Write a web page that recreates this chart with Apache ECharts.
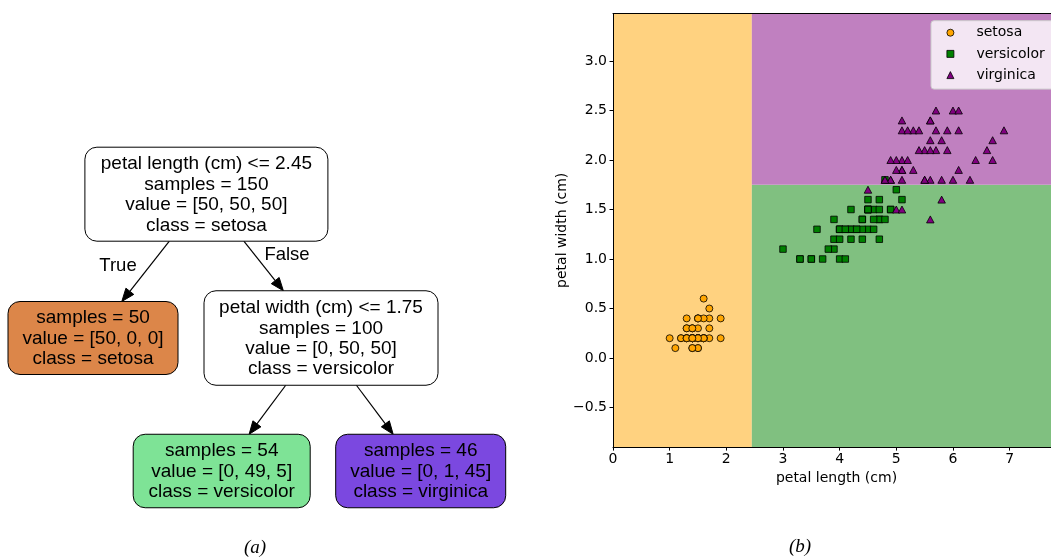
<!DOCTYPE html>
<html><head><meta charset="utf-8">
<script src="https://cdn.jsdelivr.net/npm/echarts@6/dist/echarts.min.js"></script>
<style>html,body{margin:0;padding:0;background:#fff}#chart{width:1051px;height:558px}</style>
</head><body><div id="chart"></div>
<script>
// ---------- data: iris petal measurements ----------
const classNames = ['setosa', 'versicolor', 'virginica'];
const setosaLength = [1.4,1.4,1.3,1.5,1.4,1.7,1.4,1.5,1.4,1.5, 1.5,1.6,1.4,1.1,1.2,1.5,1.3,1.4,1.7,1.5, 1.7,1.5,1.0,1.7,1.9,1.6,1.6,1.5,1.4,1.6, 1.6,1.5,1.5,1.4,1.5,1.2,1.3,1.4,1.3,1.5, 1.3,1.3,1.3,1.6,1.9,1.4,1.6,1.4,1.5,1.4];
const setosaWidth = [0.2,0.2,0.2,0.2,0.2,0.4,0.3,0.2,0.2,0.1, 0.2,0.2,0.1,0.1,0.2,0.4,0.4,0.3,0.3,0.3, 0.2,0.4,0.2,0.5,0.2,0.2,0.4,0.2,0.2,0.2, 0.2,0.4,0.1,0.2,0.2,0.2,0.2,0.1,0.2,0.2, 0.3,0.3,0.2,0.6,0.4,0.3,0.2,0.2,0.2,0.2];
const versicolorLength = [4.7,4.5,4.9,4.0,4.6,4.5,4.7,3.3,4.6,3.9, 3.5,4.2,4.0,4.7,3.6,4.4,4.5,4.1,4.5,3.9, 4.8,4.0,4.9,4.7,4.3,4.4,4.8,5.0,4.5,3.5, 3.8,3.7,3.9,5.1,4.5,4.5,4.7,4.4,4.1,4.0, 4.4,4.6,4.0,3.3,4.2,4.2,4.2,4.3,3.0,4.1];
const versicolorWidth = [1.4,1.5,1.5,1.3,1.5,1.3,1.6,1.0,1.3,1.4, 1.0,1.5,1.0,1.4,1.3,1.4,1.5,1.0,1.5,1.1, 1.8,1.3,1.5,1.2,1.3,1.4,1.4,1.7,1.5,1.0, 1.1,1.0,1.2,1.6,1.5,1.6,1.5,1.3,1.3,1.3, 1.2,1.4,1.2,1.0,1.3,1.2,1.3,1.3,1.1,1.3];
const virginicaLength = [6.0,5.1,5.9,5.6,5.8,6.6,4.5,6.3,5.8,6.1, 5.1,5.3,5.5,5.0,5.1,5.3,5.5,6.7,6.9,5.0, 5.7,4.9,6.7,4.9,5.7,6.0,4.8,4.9,5.6,5.8, 6.1,6.4,5.6,5.1,5.6,6.1,5.6,5.5,4.8,5.4, 5.6,5.1,5.1,5.9,5.7,5.2,5.0,5.2,5.4,5.1];
const virginicaWidth = [2.5,1.9,2.1,1.8,2.2,2.1,1.7,1.8,1.8,2.5, 2.0,1.9,2.1,2.0,2.4,2.3,1.8,2.2,2.3,1.5, 2.3,2.0,2.0,1.8,2.1,1.8,1.8,1.8,2.1,1.6, 1.9,2.0,2.2,1.5,1.4,2.3,2.4,1.8,1.8,2.1, 2.4,2.3,1.9,2.3,2.5,2.3,1.9,2.0,2.3,1.8];

const xTicks = [0, 1, 2, 3, 4, 5, 6, 7];
const yTicks = [-0.5, 0, 0.5, 1, 1.5, 2, 2.5, 3];
const xRange = [0, 7.73];   // visible part of the x range (plot is cut at the right edge)
const yRange = [-0.9, 3.48];
const splitPetalLength = 2.45;
const splitPetalWidth = 1.75;

// ---------- data: decision tree ----------
const nodeSplit = ['petal length (cm) <= 2.45', null, 'petal width (cm) <= 1.75', null, null];
const nodeSamples = [150, 50, 100, 54, 46];
const nodeValue = [[50, 50, 50], [50, 0, 0], [0, 50, 50], [0, 49, 5], [0, 1, 45]];
const nodeClass = ['setosa', 'setosa', 'versicolor', 'versicolor', 'virginica'];
const treeEdges = [[0, 1], [0, 2], [2, 3], [2, 4]];
const edgeLabels = ['True', 'False', '', ''];

// ---------- layout & style ----------
const nodeBox = [
  {cx: 206.4, cy: 194.2, w: 243, h: 94},
  {cx: 93, cy: 338, w: 170, h: 73},
  {cx: 321, cy: 338, w: 234, h: 94.5},
  {cx: 221.7, cy: 471, w: 177, h: 73.5},
  {cx: 420.7, cy: 471, w: 170, h: 73.5}
];
const edgeLabelPos = [[118, 266], [287, 255], null, null];
const nodeFill = ['#ffffff', '#dc8649', '#ffffff', '#7ee396', '#7b48e0'];
const pointColor = {setosa: '#ffa500', versicolor: '#008000', virginica: '#800080'};
const pointSymbol = {setosa: 'circle', versicolor: 'rect', virginica: 'triangle'};
const pointSize = {setosa: 7, versicolor: 6.5, virginica: [7.5, 7]};
const regionColor = ['#ffd280', '#80c080', '#c080c0'];
const treeFont = '"Liberation Sans", Arial, sans-serif';
const plotFont = '"DejaVu Sans", sans-serif';

function nodeText(i) {
  const lines = [];
  if (nodeSplit[i]) lines.push(nodeSplit[i]);
  lines.push('samples = ' + nodeSamples[i]);
  lines.push('value = [' + nodeValue[i].join(', ') + ']');
  lines.push('class = ' + nodeClass[i]);
  return lines.join('\n');
}

const regionBounds = [
  [xRange[0], yRange[0], splitPetalLength, yRange[1], 0],
  [splitPetalLength, yRange[0], xRange[1], splitPetalWidth, 1],
  [splitPetalLength, splitPetalWidth, xRange[1], yRange[1], 2]
];

const pointData = {
  setosa: setosaLength.map((v, i) => [v, setosaWidth[i]]),
  versicolor: versicolorLength.map((v, i) => [v, versicolorWidth[i]]),
  virginica: virginicaLength.map((v, i) => [v, virginicaWidth[i]])
};

const fmtY = v => (v < 0 ? '\u2212' : '') + Math.abs(v).toFixed(1);

const chart = echarts.init(document.getElementById('chart'), null, {renderer: 'canvas'});

const option = {
  animation: false,
  backgroundColor: '#ffffff',
  grid: [
    {left: 0, top: 0, width: 600, height: 558},
    {left: 613, top: 13.5, width: 438, height: 433.6}
  ],
  xAxis: [
    {gridIndex: 0, type: 'value', min: 0, max: 600, show: false},
    {
      gridIndex: 1, type: 'value', min: xRange[0], max: xRange[1], z: 5,
      name: 'petal length (cm)', nameLocation: 'middle', nameGap: 22,
      nameTextStyle: {color: '#000', fontSize: 14, fontFamily: plotFont, padding: [0, 0, 0, 9]},
      axisLine: {show: true, onZero: false, lineStyle: {color: '#000', width: 1}},
      axisTick: {show: true, length: 3.5, lineStyle: {color: '#000', width: 1}, customValues: xTicks},
      axisLabel: {color: '#000', fontSize: 14, fontFamily: plotFont, margin: 5, customValues: xTicks, formatter: v => String(v)},
      splitLine: {show: false}
    },
    {
      gridIndex: 1, type: 'value', position: 'top', min: xRange[0], max: xRange[1], z: 5,
      axisLine: {show: true, onZero: false, lineStyle: {color: '#000', width: 1}},
      axisTick: {show: false}, axisLabel: {show: false}, splitLine: {show: false}
    }
  ],
  yAxis: [
    {gridIndex: 0, type: 'value', min: 0, max: 558, inverse: true, show: false},
    {
      gridIndex: 1, type: 'value', min: yRange[0], max: yRange[1], z: 5,
      name: 'petal width (cm)', nameLocation: 'middle', nameGap: 43,
      nameTextStyle: {color: '#000', fontSize: 14, fontFamily: plotFont},
      axisLine: {show: true, onZero: false, lineStyle: {color: '#000', width: 1}},
      axisTick: {show: true, length: 3.5, lineStyle: {color: '#000', width: 1}, customValues: yTicks},
      axisLabel: {color: '#000', fontSize: 14, fontFamily: plotFont, margin: 6, customValues: yTicks, formatter: fmtY},
      splitLine: {show: false}
    }
  ],
  legend: {
    data: classNames,
    orient: 'vertical',
    left: 931, top: 20.7,
    z: 10,
    backgroundColor: 'rgba(255,255,255,0.8)',
    borderColor: '#cccccc', borderWidth: 1, borderRadius: 3,
    padding: [4, 30, 6, 15.5],
    itemWidth: 7, itemHeight: 7, itemGap: 5.2,
    symbolKeepAspect: true,
    itemStyle: {borderColor: '#000', borderWidth: 0.8},
    textStyle: {color: '#000', fontSize: 14, fontFamily: plotFont, lineHeight: 16, padding: [0, 0, 0, 17.5]}
  },
  graphic: [
    {type: 'text', x: 255, y: 548, style: {text: '(a)', align: 'center', verticalAlign: 'middle', fill: '#000', font: 'italic 19px "Liberation Serif", serif'}},
    {type: 'text', x: 800, y: 547, style: {text: '(b)', align: 'center', verticalAlign: 'middle', fill: '#000', font: 'italic 19px "Liberation Serif", serif'}}
  ],
  series: [
    // tree edges
    {
      type: 'custom', xAxisIndex: 0, yAxisIndex: 0, silent: true, z: 2,
      data: treeEdges.map(e => [nodeBox[e[0]].cx, nodeBox[e[0]].cy]),
      renderItem: function (params, api) {
        const e = treeEdges[params.dataIndex];
        const pb = nodeBox[e[0]], cb = nodeBox[e[1]];
        const P = api.coord([pb.cx, pb.cy]), C = api.coord([cb.cx, cb.cy]);
        const dx = C[0] - P[0], dy = C[1] - P[1];
        const t1 = (pb.h / 2) / dy, t2 = 1 - (cb.h / 2) / dy;
        const S = [P[0] + dx * t1, P[1] + dy * t1];
        const E = [P[0] + dx * t2, P[1] + dy * t2];
        const len = Math.hypot(dx, dy), ux = dx / len, uy = dy / len;
        const aL = 13, aW = 5;
        const B = [E[0] - ux * aL, E[1] - uy * aL];
        const children = [
          {type: 'line', shape: {x1: S[0], y1: S[1], x2: B[0], y2: B[1]}, style: {stroke: '#000', lineWidth: 1.2}},
          {type: 'polygon', shape: {points: [E, [B[0] - uy * aW, B[1] + ux * aW], [B[0] + uy * aW, B[1] - ux * aW]]}, style: {fill: '#000', stroke: '#000', lineWidth: 1}}
        ];
        const lp = edgeLabelPos[params.dataIndex];
        if (edgeLabels[params.dataIndex] && lp) {
          const L = api.coord(lp);
          children.push({type: 'text', x: L[0], y: L[1], style: {text: edgeLabels[params.dataIndex], align: 'center', verticalAlign: 'middle', fill: '#000', fontSize: 18.5, fontFamily: treeFont}});
        }
        return {type: 'group', children: children};
      }
    },
    // tree nodes
    {
      type: 'custom', xAxisIndex: 0, yAxisIndex: 0, silent: true, z: 3,
      data: nodeBox.map(b => [b.cx, b.cy]),
      renderItem: function (params, api) {
        const i = params.dataIndex, b = nodeBox[i];
        const c = api.coord([b.cx, b.cy]);
        return {type: 'group', children: [
          {type: 'rect', shape: {x: c[0] - b.w / 2, y: c[1] - b.h / 2, width: b.w, height: b.h, r: 12}, style: {fill: nodeFill[i], stroke: '#000', lineWidth: 1}},
          {type: 'text', x: c[0], y: c[1] + 0.5, style: {text: nodeText(i), align: 'center', verticalAlign: 'middle', fill: '#000', fontSize: 19, lineHeight: 20.4, fontFamily: treeFont}}
        ]};
      }
    },
    // decision regions
    {
      type: 'custom', xAxisIndex: 1, yAxisIndex: 1, silent: true, z: 0,
      encode: {x: [0, 2], y: [1, 3]},
      data: regionBounds,
      renderItem: function (params, api) {
        const p0 = api.coord([api.value(0), api.value(1)]);
        const p1 = api.coord([api.value(2), api.value(3)]);
        return {type: 'rect', shape: {x: Math.min(p0[0], p1[0]), y: Math.min(p0[1], p1[1]), width: Math.abs(p1[0] - p0[0]), height: Math.abs(p1[1] - p0[1])}, style: {fill: regionColor[api.value(4)]}};
      }
    }
  ].concat(classNames.map(name => ({
    name: name, type: 'scatter', xAxisIndex: 1, yAxisIndex: 1, z: 3,
    symbol: pointSymbol[name], symbolSize: pointSize[name],
    itemStyle: {color: pointColor[name], borderColor: '#000', borderWidth: 0.8, opacity: 1},
    data: pointData[name]
  })))
};

chart.setOption(option);
</script></body></html>
